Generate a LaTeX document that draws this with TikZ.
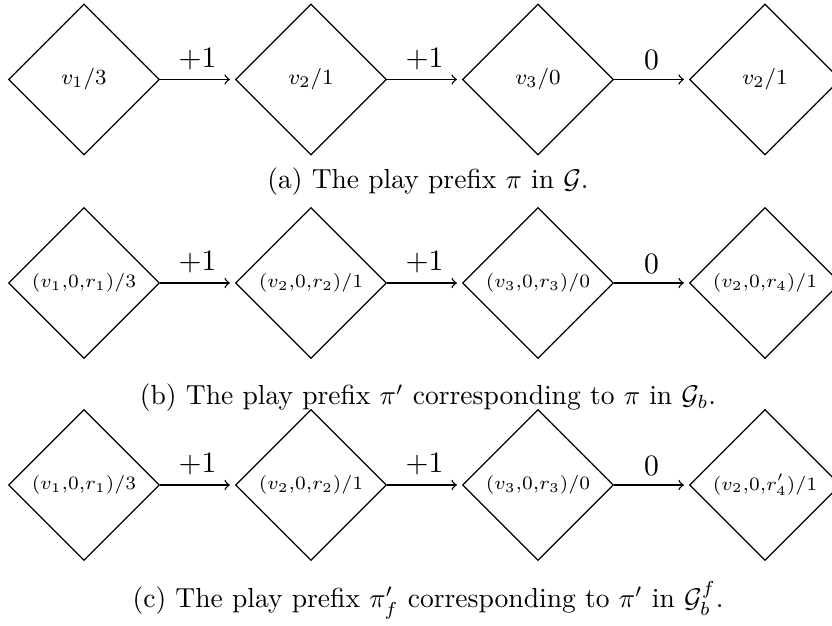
\documentclass[tikz,border=0pt]{standalone}
\usetikzlibrary{shapes.geometric,arrows}
\begin{document}
\begin{tikzpicture}[x=0.37pt,y=-0.37pt,line width=0.5pt,
  state/.style={draw,shape=diamond,minimum width=55.9pt,minimum height=55.9pt,inner sep=0pt,font=\footnotesize},
  tstate/.style={state,font=\fontsize{7.2}{8}\selectfont},
  edge/.style={->,>=to,shorten >=1.8pt},
  lbl/.style={above,font=\fontsize{10.5}{12}\selectfont},
  capt/.style={font=\fontsize{10.2}{12}\selectfont}]
\useasboundingbox (0,0) rectangle (832,626);
% row (a)
\node[state] (a1) at (84,79.5) {$v_1/3$};
\node[state] (a2) at (311,79.5) {$v_2/1$};
\node[state] (a3) at (538,79.5) {$v_3/0$};
\node[state] (a4) at (765,79.5) {$v_2/1$};
\draw[edge] (a1.east) -- node[lbl] {$+1$} (a2.west);
\draw[edge] (a2.east) -- node[lbl] {$+1$} (a3.west);
\draw[edge] (a3.east) -- node[lbl] {$0$} (a4.west);
\node[capt] (ca) at (428,182) {(a) The play prefix $\pi$ in $\mathcal{G}$.};
% row (b)
\node[tstate] (b1) at (84,283) {$(v_1{,}0{,}r_1)/3$};
\node[tstate] (b2) at (311,283) {$(v_2{,}0{,}r_2)/1$};
\node[tstate] (b3) at (538,283) {$(v_3{,}0{,}r_3)/0$};
\node[tstate] (b4) at (765,283) {$(v_2{,}0{,}r_4)/1$};
\draw[edge] (b1.east) -- node[lbl] {$+1$} (b2.west);
\draw[edge] (b2.east) -- node[lbl] {$+1$} (b3.west);
\draw[edge] (b3.east) -- node[lbl] {$0$} (b4.west);
\node[capt] (cb) at (428,398) {(b) The play prefix $\pi'$ corresponding to $\pi$ in $\mathcal{G}_b$.};
% row (c)
\node[tstate] (c1) at (84,485) {$(v_1{,}0{,}r_1)/3$};
\node[tstate] (c2) at (311,485) {$(v_2{,}0{,}r_2)/1$};
\node[tstate] (c3) at (538,485) {$(v_3{,}0{,}r_3)/0$};
\node[tstate] (c4) at (765,485) {$(v_2{,}0{,}r'_4)/1$};
\draw[edge] (c1.east) -- node[lbl] {$+1$} (c2.west);
\draw[edge] (c2.east) -- node[lbl] {$+1$} (c3.west);
\draw[edge] (c3.east) -- node[lbl] {$0$} (c4.west);
\node[capt] (cc) at (428,600) {(c) The play prefix $\pi'_f$ corresponding to $\pi'$ in $\mathcal{G}^f_b$.};
\end{tikzpicture}
\end{document}
